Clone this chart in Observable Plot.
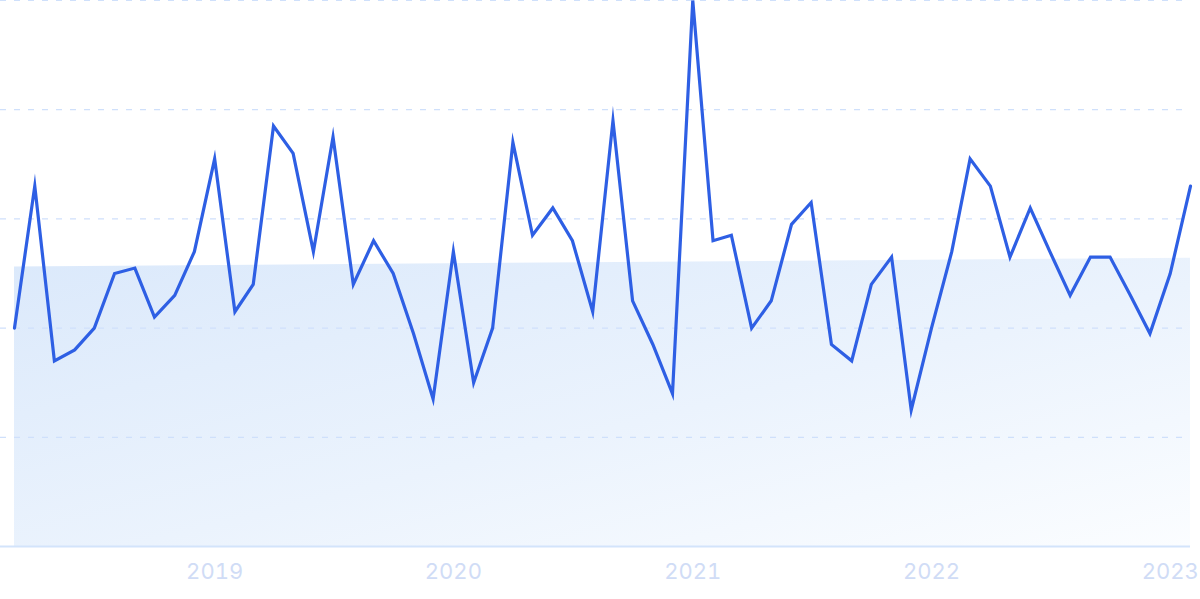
<!DOCTYPE html>
<html>
<head>
<meta charset="utf-8">
<script src="https://cdn.jsdelivr.net/npm/d3@7"></script>
<script src="https://cdn.jsdelivr.net/npm/@observablehq/plot@0.6"></script>
<style>
  html, body { margin: 0; padding: 0; background: #fff; }
  #chart svg { display: block; }
</style>
</head>
<body>
<div id="chart"></div>
<script>
// Monthly values, March 2018 – February 2023 (index 0–100 scale)
const startMonth = "2018-03-01";
const values = [
  40, 66, 34, 36, 40, 50, 51, 42, 46, 54,
  71, 43, 48, 77, 72, 54, 75, 48, 56, 50,
  39, 27, 54, 30, 40, 74, 57, 62, 56, 43,
  78, 45, 37, 28, 100, 56, 57, 40, 45, 59,
  63, 37, 34, 48, 53, 25, 40, 54, 71, 66,
  53, 62, 54, 46, 53, 53, 46, 39, 50, 66
];
// Trend band (start and end levels)
const trendValues = [51.2, 52.8];
const yTicks = [0, 20, 40, 60, 80, 100];
const xTickYears = [2019, 2020, 2021, 2022, 2023];

const start = new Date(startMonth);
const data = values.map((v, i) => ({
  date: new Date(Date.UTC(start.getUTCFullYear(), start.getUTCMonth() + i, 1)),
  value: v
}));
const trend = [
  {date: data[0].date, value: trendValues[0]},
  {date: data[data.length - 1].date, value: trendValues[1]}
];
const xTicks = xTickYears.map(y => new Date(Date.UTC(y, 0, 1)));

const chart = Plot.plot({
  width: 1200,
  height: 599,
  marginTop: 0,
  marginLeft: 0,
  marginRight: 10,
  marginBottom: 53,
  style: {fontFamily: "Inter, sans-serif", background: "transparent", overflow: "visible"},
  x: {type: "utc", insetLeft: 14, domain: [data[0].date, data[data.length - 1].date]},
  y: {domain: [0, 100], axis: null},
  marks: [
    () => {
      const ns = "http://www.w3.org/2000/svg";
      const defs = document.createElementNS(ns, "defs");
      defs.innerHTML = `<linearGradient id="bandGrad" x1="0" y1="0" x2="1" y2="1">
        <stop offset="0%" stop-color="#dbe9fb"/>
        <stop offset="55%" stop-color="#ebf3fd"/>
        <stop offset="100%" stop-color="#fbfdff"/>
      </linearGradient>`;
      return defs;
    },
    Plot.areaY(trend, {x: "date", y: "value", fill: "url(#bandGrad)"}),
    Plot.gridY(yTicks.filter(d => d > 0), {stroke: "#cfe0fb", strokeOpacity: 1, strokeDasharray: "6,8", strokeWidth: 1.2}),
    Plot.ruleY([0], {stroke: "#d3e4fb", strokeWidth: 2}),
    Plot.axisX({
      ticks: xTicks,
      tickSize: 0,
      tickPadding: 17,
      tickFormat: d => String(d.getUTCFullYear()),
      fontSize: 22,
      fill: "#d0dcf6",
      label: null
    }),
    Plot.lineY(data, {x: "date", y: "value", stroke: "#2e5fe4", strokeWidth: 3.2, strokeLinejoin: "miter", strokeMiterlimit: 10})
  ]
});
document.getElementById("chart").appendChild(chart);
</script>
</body>
</html>
